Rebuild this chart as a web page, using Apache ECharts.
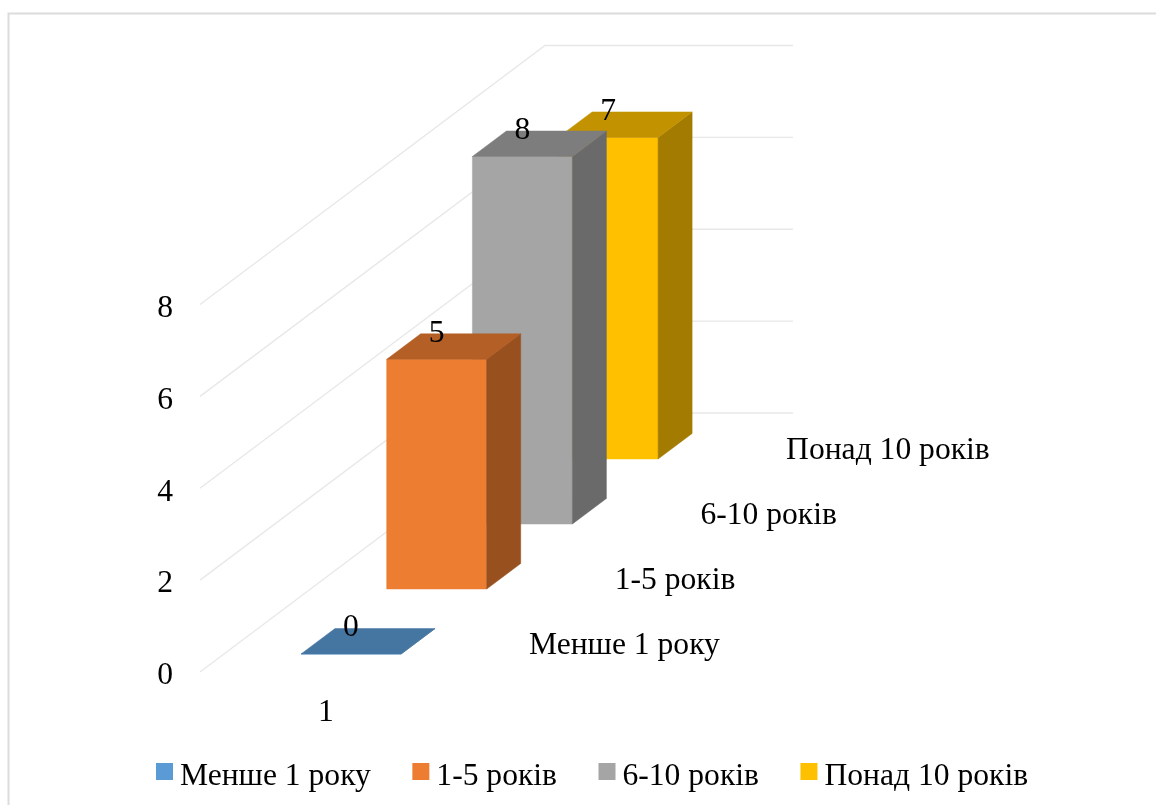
<!DOCTYPE html>
<html>
<head>
<meta charset="utf-8">
<title>Стаж роботи</title>
<style>
  html, body { margin: 0; padding: 0; background: #ffffff; }
  #chart { width: 1156px; height: 805px; }
</style>
<script src="https://cdn.jsdelivr.net/npm/echarts@6/dist/echarts.min.js"></script>
</head>
<body>
<div id="chart"></div>
<script>
// Chart content
const categories = ['1'];
const tickValues = [0, 2, 4, 6, 8];
const under1Year = [0];
const years1to5 = [5];
const years6to10 = [8];
const over10Years = [7];
const seriesNames = ['Менше 1 року', '1-5 років', '6-10 років', 'Понад 10 років'];
const seriesColors = ['#5B9BD5', '#ED7D31', '#A5A5A5', '#FFC000'];

// Oblique projection of the depth axis, in pixels
const FONT = '"Liberation Serif", "Times New Roman", serif';
const FONT_SIZE = 31.6;
const WALL = { dx: 345, dy: -259 };
const ROW = { dx: 85.7, dy: -65 };
const FIRST_ROW = { dx: 27, dy: -18 };
const BAR = { width: 100, dx: 34, dy: -25.5 };

function shade(hex, k) {
  const n = parseInt(hex.slice(1), 16);
  const c = [n >> 16, (n >> 8) & 255, n & 255].map(function (v) { return Math.round(v * k); });
  return 'rgb(' + c.join(',') + ')';
}

// Light wall lines: one bent line per tick, running back and then across
function renderWall(params, api) {
  const p = api.coord([0, api.value(0)]);
  const half = api.size([1, 0])[0] / 2;
  const left = p[0] - half;
  return {
    type: 'polyline',
    silent: true,
    shape: { points: [
      [left, p[1]],
      [left + WALL.dx, p[1] + WALL.dy],
      [left + WALL.dx + half * 2, p[1] + WALL.dy]
    ] },
    style: { fill: null, stroke: '#e8e8e8', lineWidth: 1.3 }
  };
}

// One 3D column: front, top and side faces, value label and depth-axis label
function columnRenderer(row) {
  return function (params, api) {
    const color = seriesColors[row];
    const value = api.value(1);
    const top = api.coord([api.value(0), value]);
    const base = api.coord([api.value(0), 0]);
    const cx = top[0] + FIRST_ROW.dx + ROW.dx * row;
    const shiftY = FIRST_ROW.dy + ROW.dy * row;
    const x0 = cx - BAR.width / 2;
    const x1 = cx + BAR.width / 2;
    const yTop = top[1] + shiftY;
    const yBase = base[1] + shiftY;
    const poly = function (points, fill) {
      return { type: 'polygon', shape: { points: points }, style: { fill: fill, stroke: fill, lineWidth: 0.5 } };
    };
    const text = function (str, x, y, align) {
      return {
        type: 'text',
        style: { text: str, x: x, y: y, fill: '#000', font: FONT_SIZE + 'px ' + FONT, textAlign: align, textVerticalAlign: 'middle' }
      };
    };
    return {
      type: 'group',
      children: [
        poly([[x0, yBase], [x1, yBase], [x1, yTop], [x0, yTop]], color),
        poly([[x1, yBase], [x1 + BAR.dx, yBase + BAR.dy], [x1 + BAR.dx, yTop + BAR.dy], [x1, yTop]], shade(color, 0.64)),
        poly([[x0, yTop], [x1, yTop], [x1 + BAR.dx, yTop + BAR.dy], [x0 + BAR.dx, yTop + BAR.dy]], shade(color, 0.76)),
        text(String(value), cx, yTop - 26, 'center'),
        text(seriesNames[row], x1 + 128, yBase - 8, 'left')
      ]
    };
  };
}

const columnData = [under1Year, years1to5, years6to10, over10Years];

const columnSeries = columnData.map(function (values, row) {
  return {
    type: 'custom',
    name: seriesNames[row],
    coordinateSystem: 'cartesian2d',
    renderItem: columnRenderer(row),
    encode: { x: 0, y: 1 },
    data: values.map(function (v, i) { return [i, v]; }),
    itemStyle: { color: seriesColors[row] },
    z: 10 - row,
    clip: false,
    silent: true
  };
});

const baseText = { fontFamily: FONT, fontSize: FONT_SIZE, color: '#000' };

const chart = echarts.init(document.getElementById('chart'), null, { renderer: 'canvas' });
chart.setOption({
  animation: false,
  backgroundColor: '#ffffff',
  graphic: [{
    type: 'polyline',
    silent: true,
    shape: { points: [[8.5, 806], [8.5, 13.5], [1157, 13.5]] },
    style: { fill: null, stroke: '#dcdcdc', lineWidth: 2 }
  }],
  grid: { left: 200, top: 304.5, width: 248, height: 367.5 },
  xAxis: {
    type: 'category',
    data: categories,
    axisLine: { show: false },
    axisTick: { show: false },
    axisLabel: { fontFamily: FONT, fontSize: FONT_SIZE, color: '#000', margin: 25, padding: [0, 0, 0, 4] }
  },
  yAxis: {
    type: 'value',
    min: 0,
    max: 8,
    interval: 2,
    splitLine: { show: false },
    axisLine: { show: false },
    axisTick: { show: false },
    axisLabel: {
      margin: 27,
      formatter: function (v) { return '{t|' + v + '}'; },
      rich: { t: Object.assign({ padding: [8, 0, 0, 0] }, baseText) }
    }
  },
  legend: {
    data: seriesNames,
    icon: 'rect',
    itemWidth: 17,
    itemHeight: 17,
    itemGap: 41.5,
    left: 151,
    top: 755.5,
    selectedMode: false,
    formatter: function (name) { return '{t|' + name + '}'; },
    textStyle: { rich: { t: Object.assign({ padding: [10, 0, 0, 2] }, baseText) } }
  },
  series: [{
    type: 'custom',
    coordinateSystem: 'cartesian2d',
    renderItem: renderWall,
    encode: { y: 0 },
    data: tickValues.map(function (v) { return [v]; }),
    z: 1,
    clip: false,
    silent: true
  }].concat(columnSeries)
});
</script>
</body>
</html>
